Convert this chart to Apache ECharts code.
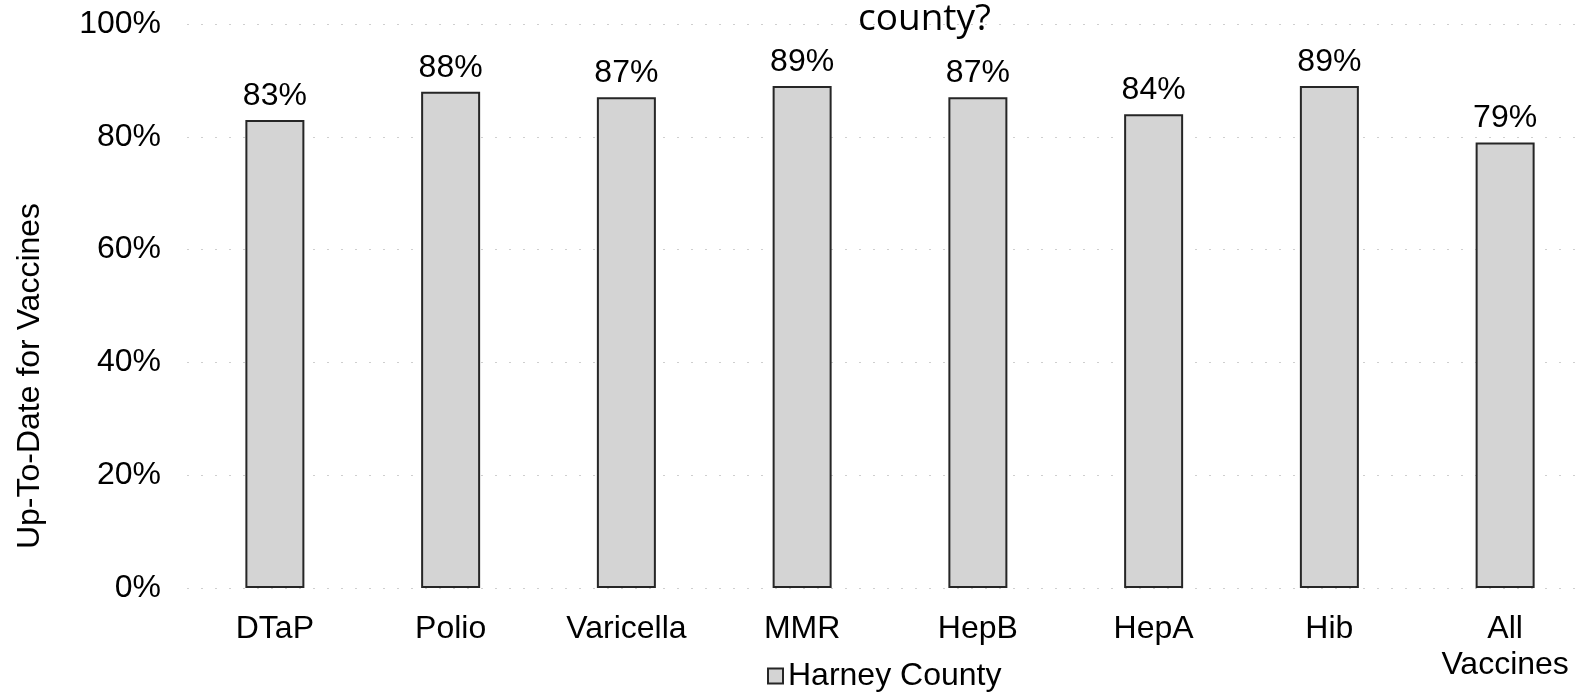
<!DOCTYPE html>
<html>
<head>
<meta charset="utf-8">
<script src="https://cdn.jsdelivr.net/npm/echarts@6/dist/echarts.min.js"></script>
<style>
  html, body { margin: 0; padding: 0; background: #fff; overflow: hidden; }
  #chart { width: 1593px; height: 692px; }
</style>
</head>
<body>
<div id="chart"></div>
<script>
var categories = ['DTaP', 'Polio', 'Varicella', 'MMR', 'HepB', 'HepA', 'Hib', 'All\nVaccines'];
var upToDate = [83, 88, 87, 89, 87, 84, 89, 79];
var yTicks = [0, 20, 40, 60, 80, 100];

var font = 'Liberation Sans, Arial, sans-serif';
var myChart = echarts.init(document.getElementById('chart'));

var option = {
    backgroundColor: '#fff',
    animation: false,
    title: {
        text: 'county?',
        left: 853,
        top: -4,
        textStyle: {
            fontFamily: 'Open Sans',
            fontSize: 37,
            fontWeight: 'normal',
            color: '#000'
        }
    },
    legend: {
        data: ['Harney County'],
        left: 762,
        top: 655,
        icon: 'rect',
        itemWidth: 15,
        itemHeight: 15,
        itemGap: 4,
        textStyle: {
            fontFamily: font,
            fontSize: 32,
            color: '#000'
        }
    },
    grid: {
        left: 187,
        right: 0,
        top: 24,
        bottom: 104
    },
    xAxis: {
        type: 'category',
        data: categories,
        axisLine: { show: false },
        axisTick: { show: false },
        axisLabel: {
            margin: 23,
            fontFamily: font,
            fontSize: 32,
            lineHeight: 36,
            color: '#000',
            interval: 0
        }
    },
    yAxis: {
        type: 'value',
        min: 0,
        max: 100,
        interval: 20,
        name: 'Up-To-Date for Vaccines',
        nameLocation: 'middle',
        nameRotate: 90,
        nameGap: 141,
        nameTextStyle: {
            fontFamily: font,
            fontSize: 32,
            color: '#000',
            padding: [0, 140, 0, 0]
        },
        axisLine: { show: false },
        axisTick: { show: false },
        axisLabel: {
            margin: 26,
            fontFamily: font,
            fontSize: 32,
            color: '#000',
            formatter: function (v) {
                return yTicks.indexOf(v) >= 0 ? v + '%' : '';
            }
        },
        splitLine: {
            lineStyle: {
                color: '#cfcfcf',
                width: 1,
                type: [2, 12]
            }
        }
    },
    series: [{
        name: 'Harney County',
        type: 'bar',
        data: upToDate,
        barWidth: 59,
        itemStyle: {
            color: '#d4d4d4',
            borderColor: '#262626',
            borderWidth: 2
        },
        label: {
            show: true,
            position: 'top',
            distance: 8,
            fontFamily: font,
            fontSize: 32,
            color: '#000',
            formatter: function (p) {
                return p.value + '%';
            }
        }
    }]
};

myChart.setOption(option);
</script>
</body>
</html>
